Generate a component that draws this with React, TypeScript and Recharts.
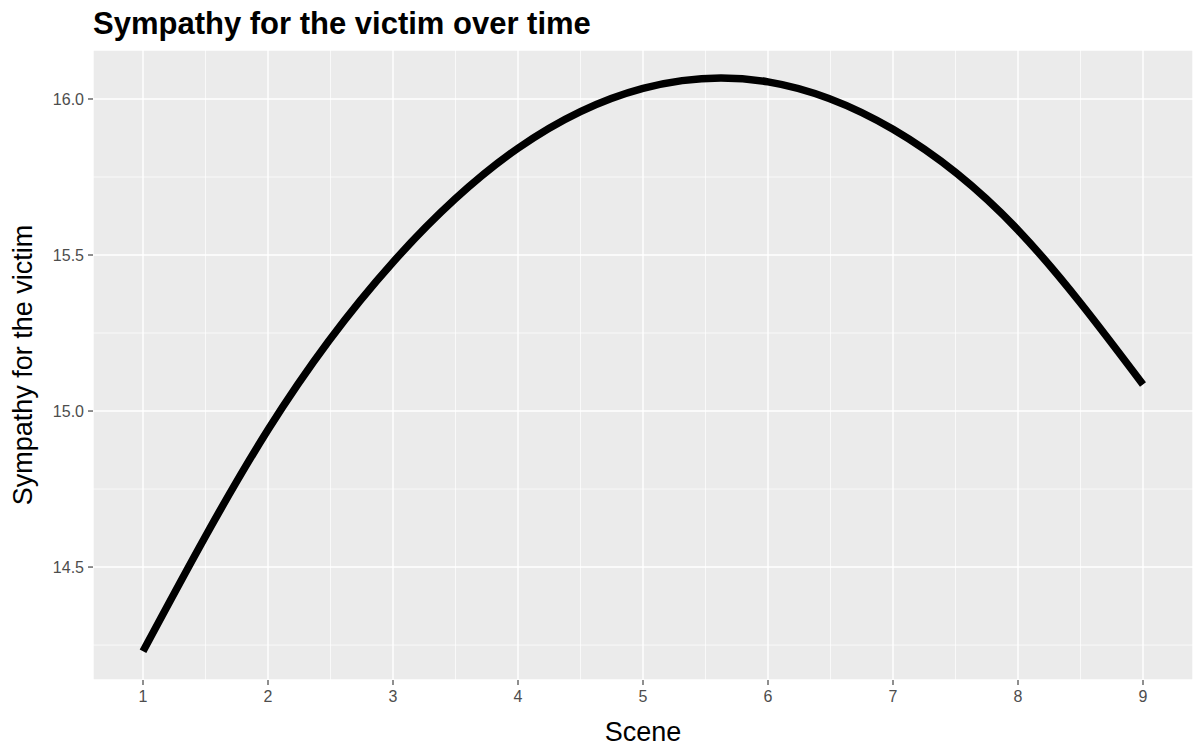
import React from "react";
import { LineChart, Line, XAxis, YAxis, CartesianGrid, ReferenceLine } from "recharts";

const scenes = [1, 2, 3, 4, 5, 6, 7, 8, 9];
const sympathy = [14.23, 14.94, 15.477, 15.842, 16.034, 16.055, 15.903, 15.58, 15.085];
const xTicks = [1, 2, 3, 4, 5, 6, 7, 8, 9];
const yTicks = [14.5, 15.0, 15.5, 16.0];
const xMinor = [1.5, 2.5, 3.5, 4.5, 5.5, 6.5, 7.5, 8.5];
const yMinor = [14.25, 14.75, 15.25, 15.75];

const data = scenes.map((s, i) => ({ scene: s, sympathy: sympathy[i] }));

const FONT = "'Liberation Sans', Arial, sans-serif";

export default function App() {
  return (
    <div style={{ position: "absolute", left: 0, top: 0, width: 1193, height: 746, background: "#fff", fontFamily: FONT, overflow: "hidden" }}>
      <LineChart width={1193} height={746} data={data} margin={{ top: 50, right: 0, bottom: 0, left: 0 }}>
        <CartesianGrid fill="#EBEBEB" fillOpacity={1} stroke="#FFFFFF" strokeWidth={1.4} />
        {xMinor.map((v) => (
          <ReferenceLine key={"xm" + v} x={v} stroke="#FFFFFF" strokeWidth={0.7} />
        ))}
        {yMinor.map((v) => (
          <ReferenceLine key={"ym" + v} y={v} stroke="#FFFFFF" strokeWidth={0.7} />
        ))}
        <XAxis
          dataKey="scene"
          type="number"
          domain={[0.6, 9.4]}
          ticks={xTicks}
          allowDataOverflow
          height={66}
          axisLine={false}
          tickLine={{ stroke: "#333333", strokeWidth: 1.1 }}
          tickSize={5}
          tickMargin={6}
          tick={{ fill: "#4D4D4D", fontSize: 16, fontFamily: FONT }}
        />
        <YAxis
          type="number"
          domain={[14.138, 16.157]}
          ticks={yTicks}
          allowDataOverflow
          width={93}
          axisLine={false}
          tickLine={{ stroke: "#333333", strokeWidth: 1.1 }}
          tickSize={5}
          tickMargin={4}
          tickFormatter={(v: number) => v.toFixed(1)}
          tick={{ fill: "#4D4D4D", fontSize: 16, fontFamily: FONT }}
        />
        <Line
          type="natural"
          dataKey="sympathy"
          stroke="#000000"
          strokeWidth={7.5}
          dot={false}
          activeDot={false}
          isAnimationActive={false}
        />
      </LineChart>
      <div style={{ position: "absolute", left: 93, top: 8, fontSize: 31, lineHeight: "31px", fontWeight: "bold", color: "#000", whiteSpace: "nowrap" }}>
        Sympathy for the victim over time
      </div>
      <div
        style={{
          position: "absolute",
          left: 23,
          top: 365,
          transform: "translate(-50%, -50%) rotate(-90deg)",
          fontSize: 27,
          lineHeight: "27px",
          color: "#000",
          whiteSpace: "nowrap",
        }}
      >
        Sympathy for the victim
      </div>
      <div
        style={{
          position: "absolute",
          left: 643,
          top: 732,
          transform: "translate(-50%, -50%)",
          fontSize: 27,
          lineHeight: "24px",
          color: "#000",
          whiteSpace: "nowrap",
        }}
      >
        Scene
      </div>
    </div>
  );
}
